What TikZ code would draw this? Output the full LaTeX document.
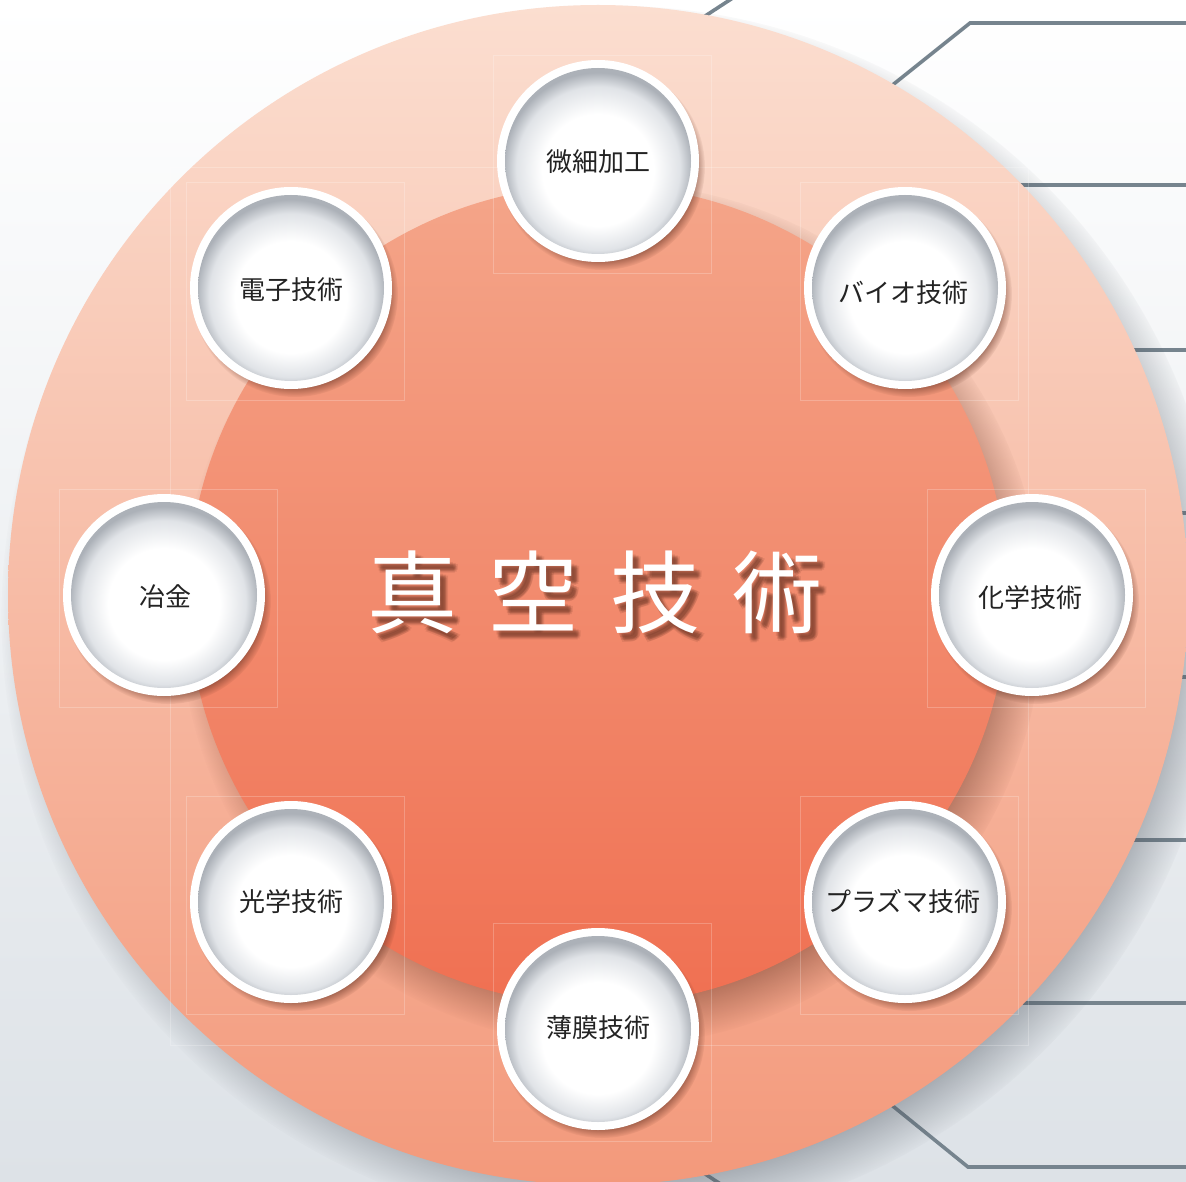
\documentclass[tikz,border=0pt]{standalone}
\usepackage{fontspec}
\newfontfamily\jp{Noto Sans CJK JP}
\usetikzlibrary{fadings}
\definecolor{bgM}{RGB}{238,240,242}
\definecolor{bgB}{RGB}{221,226,231}
\definecolor{ringT}{RGB}{251,222,208}
\definecolor{ringB}{RGB}{243,153,123}
\definecolor{coreT}{RGB}{244,165,137}
\definecolor{coreB}{RGB}{240,112,82}
\definecolor{gline}{RGB}{118,132,142}
\definecolor{rimA}{RGB}{224,227,231}
\definecolor{rimB}{RGB}{172,177,184}
\definecolor{shadowdk}{RGB}{70,78,88}
\definecolor{shadowbr}{RGB}{95,45,30}
\definecolor{labeltxt}{RGB}{35,35,35}
\pgfdeclareradialshading{softedgeshade}{\pgfpointorigin}{color(0bp)=(pgftransparent!0); color(21bp)=(pgftransparent!0); color(25bp)=(pgftransparent!100); color(50bp)=(pgftransparent!100)}
\pgfdeclarefading{softedge}{\pgfuseshading{softedgeshade}}
\pgfdeclareradialshading{smalledgeshade}{\pgfpointorigin}{color(0bp)=(pgftransparent!0); color(21.5bp)=(pgftransparent!0); color(25bp)=(pgftransparent!100); color(50bp)=(pgftransparent!100)}
\pgfdeclarefading{smalledge}{\pgfuseshading{smalledgeshade}}
\pgfdeclareradialshading{bubble}{\pgfpoint{0bp}{-3.5bp}}{color(0bp)=(white); color(15bp)=(white); color(22bp)=(rimA); color(25.5bp)=(rimB); color(50bp)=(rimB)}
\tikzset{
  gray line/.style={draw=gline, line width=3.6pt},
  faint/.style={draw=white, draw opacity=0.22, line width=0.7pt},
  lbl/.style={font=\jp\fontsize{26}{26}\selectfont, text=labeltxt, inner sep=0pt},
  titlefont/.style={font=\jp\fontsize{90}{90}\selectfont, inner sep=0pt},
}
\newcommand{\bubbleat}[2]{%
  \fill[shadowbr, opacity=0.75, path fading=smalledge] (#1+4,#2+6) circle (103);
  \fill[white] (#1,#2) circle (101);
  \shade[shading=bubble] (#1,#2) circle (93);
}
\begin{document}
\begin{tikzpicture}[x=1pt,y=-1pt]
\useasboundingbox (0,0) rectangle (1186,1182);
% background
\shade[top color=white, middle color=bgM, bottom color=bgB] (0,0) rectangle (1186,1182);
% gray lines behind the disc
\draw[gray line] (820,143) -- (970,23) -- (1190,23);
\draw[gray line] (900,185) -- (1190,185);
\draw[gray line] (1000,350) -- (1190,350);
\draw[gray line] (1100,513) -- (1190,513);
\draw[gray line] (1100,677) -- (1190,677);
\draw[gray line] (1000,840) -- (1190,840);
\draw[gray line] (900,1003) -- (1190,1003);
\draw[gray line] (820,1047) -- (968,1167) -- (1190,1167);
\draw[gray line] (650,52) -- (745,-10);
\draw[gray line] (650,1138) -- (745,1200);
% outer disc
\fill[shadowdk, opacity=0.7, path fading=softedge] (614,616) circle (612);
\shade[top color=ringT, bottom color=ringB] (598,595) circle (590);
\draw[faint] (170,167) rectangle (1028,1045);
% inner disc
\fill[shadowbr, opacity=0.6, path fading=softedge] (612,614) circle (432);
\shade[top color=coreT, bottom color=coreB] (598,595) circle (410);
% title with blurred drop shadow
\foreach \dx/\dy in {3/4,5/6,7/8,4/7,6/5,5/9,8/6,6/7}{
  \node[titlefont, text=shadowbr, opacity=0.12] at (595+\dx,592+\dy) {真\hspace{32pt}空\hspace{32pt}技\hspace{32pt}術};
}
\node[titlefont, text=white] (title) at (595,592) {真\hspace{32pt}空\hspace{32pt}技\hspace{32pt}術};
% faint squares
\foreach \cx/\cy in {598/161,905/288,1032/595,905/902,598/1029,291/902,164/595,291/288}{
  \draw[faint] (\cx-105,\cy-106) rectangle (\cx+113,\cy+112);
}
% bubbles
\bubbleat{598}{161}
\bubbleat{905}{288}
\bubbleat{1032}{595}
\bubbleat{905}{902}
\bubbleat{598}{1029}
\bubbleat{291}{902}
\bubbleat{164}{595}
\bubbleat{291}{288}
\node[lbl] (n1) at (598,162) {微細加工};
\node[lbl] (n2) at (903,293) {バイオ技術};
\node[lbl] (n3) at (1030,598) {化学技術};
\node[lbl] (n4) at (903,902) {プラズマ技術};
\node[lbl] (n5) at (598,1028) {薄膜技術};
\node[lbl] (n6) at (291,902) {光学技術};
\node[lbl] (n7) at (165,597) {冶金};
\node[lbl] (n8) at (291,290) {電子技術};
\end{tikzpicture}
\end{document}
